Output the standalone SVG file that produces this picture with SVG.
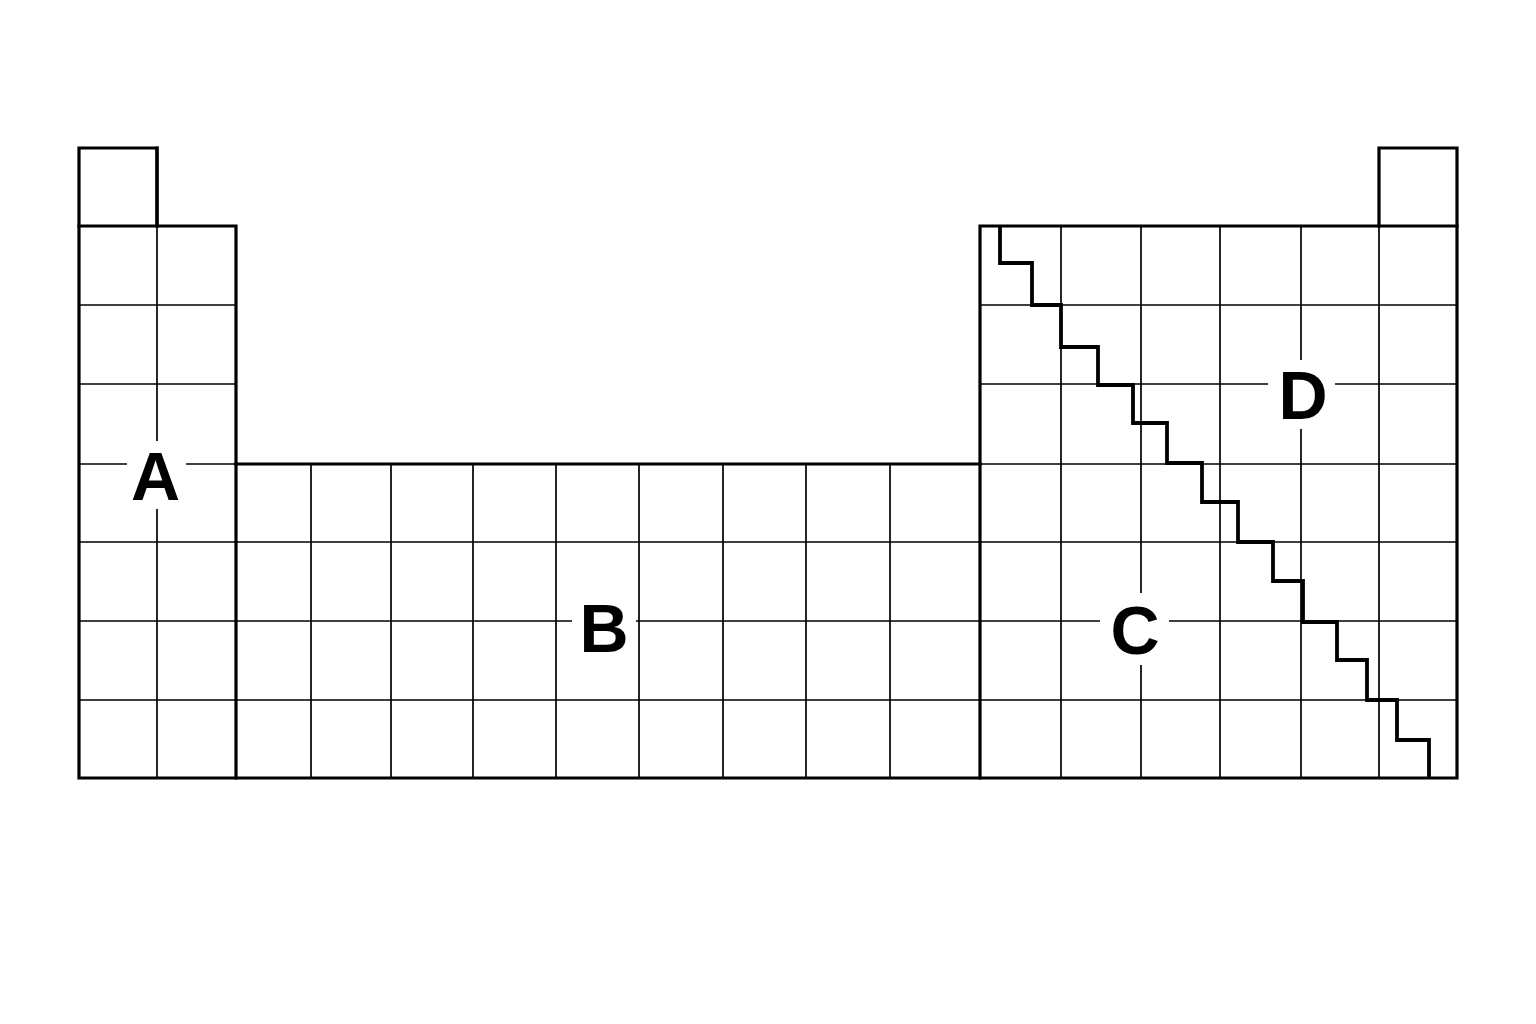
<svg xmlns="http://www.w3.org/2000/svg" width="1536" height="1024" viewBox="0 0 1536 1024">
<style>
.thin{stroke:#000;stroke-width:1.7;fill:none}
.thick{stroke:#000;stroke-width:3.2;fill:none;stroke-linejoin:miter;stroke-linecap:square}
.stair{stroke:#000;stroke-width:3.8;fill:none;stroke-linejoin:miter}
.gap{fill:#fff;stroke:none}
.lbl{font-family:"Liberation Sans",Arial,sans-serif;font-weight:bold;font-size:68px;fill:#000;text-anchor:middle}
</style>
<rect width="1536" height="1024" fill="#fff"/>
<g id="grid-thin">
<line class="thin" x1="157" y1="226" x2="157" y2="778"/>
<path class="thin" d="M79 305H236M79 384H236M79 464H236M79 542H236M79 621H236M79 700H236"/>
<path class="thin" d="M311 464V778M391 464V778M473 464V778M556 464V778M639 464V778M723 464V778M806 464V778M890 464V778"/>
<path class="thin" d="M236 542H980M236 621H980M236 700H980"/>
<path class="thin" d="M1061 226V778M1141 226V778M1220 226V778M1301 226V778M1379 226V778"/>
<path class="thin" d="M980 305H1457M980 384H1457M980 464H1457M980 542H1457M980 621H1457M980 700H1457"/>
</g>
<g id="label-gaps">
<rect class="gap" x="127" y="441" width="59" height="68"/>
<rect class="gap" x="572" y="596" width="64" height="55"/>
<rect class="gap" x="1100" y="593" width="69" height="72"/>
<rect class="gap" x="1268" y="360" width="67" height="69"/>
</g>
<g id="grid-outline">
<path class="thick" d="M79 148H157V226H236V464H980V226H1379V148H1457V778H79Z"/>
<path class="thick" d="M79 226H157V148M236 464V778M980 464V778M1379 226H1457"/>
</g>
<g id="staircase">
<path class="stair" d="M1000 226V263H1032V305H1061V347H1098V385H1133V423H1167V463H1202V502H1238V542H1273V581H1303V622H1337V660H1367V700H1397V740H1429V778"/>
</g>
<g id="labels">
<text class="lbl" x="155.5" y="500">A</text>
<text class="lbl" x="604" y="652">B</text>
<text class="lbl" x="1135" y="654">C</text>
<text class="lbl" x="1303" y="419">D</text>
</g>
</svg>
